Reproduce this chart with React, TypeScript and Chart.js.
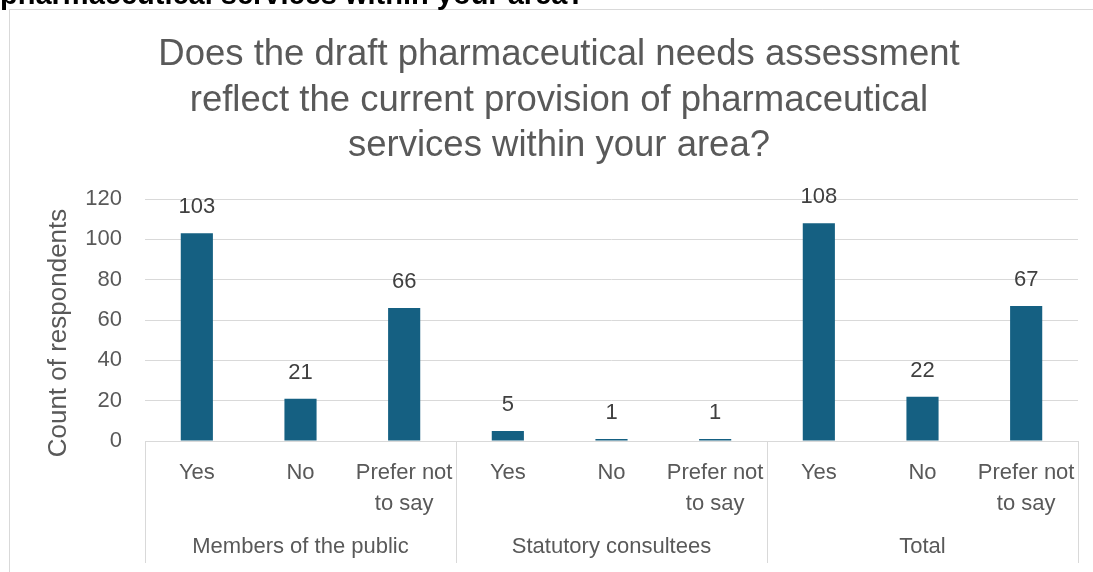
import React, { useEffect, useRef } from "react";
import { Chart, registerables } from "chart.js";

Chart.register(...registerables);

const pageHeading = "pharmaceutical services within your area?";
const titleLines = [
  "Does the draft pharmaceutical needs assessment",
  "reflect the current provision of pharmaceutical",
  "services within your area?",
];
const yAxisTitle = "Count of respondents";
const groups = ["Members of the public", "Statutory consultees", "Total"];
const answerLabels = [["Yes"], ["No"], ["Prefer not", "to say"]];
const publicValues = [103, 21, 66];
const statutoryValues = [5, 1, 1];
const totalValues = [108, 22, 67];
const yMin = 0;
const yMax = 120;
const yStep = 20;

const FONT = "'Liberation Sans', Arial, sans-serif";
const TEXT = "#595959";
const LABEL = "#404040";
const GRID = "#d9d9d9";
const BAR = "#156082";

export default function App() {
  const ref = useRef<HTMLCanvasElement | null>(null);

  useEffect(() => {
    const canvas = ref.current;
    if (!canvas) return;
    document.body.style.margin = "0";

    const labels = groups.flatMap(() => answerLabels);
    const values = [...publicValues, ...statutoryValues, ...totalValues];

    const decor = {
      id: "decor",
      beforeDraw(chart: any) {
        const ctx = chart.ctx;
        ctx.save();
        ctx.fillStyle = "#ffffff";
        ctx.fillRect(0, 0, chart.width, chart.height);
        ctx.strokeStyle = GRID;
        ctx.lineWidth = 1;
        ctx.beginPath();
        ctx.moveTo(9.5, chart.height);
        ctx.lineTo(9.5, 9.5);
        ctx.lineTo(chart.width, 9.5);
        ctx.stroke();

        ctx.fillStyle = "#000000";
        ctx.font = `bold 29px ${FONT}`;
        ctx.textAlign = "left";
        ctx.textBaseline = "alphabetic";
        ctx.fillText(pageHeading, 0, 4);

        ctx.fillStyle = TEXT;
        ctx.font = `36.5px ${FONT}`;
        ctx.textAlign = "center";
        titleLines.forEach((t, i) => ctx.fillText(t, 559, 65 + i * 45.5));

        ctx.save();
        ctx.translate(59, 333);
        ctx.rotate(-Math.PI / 2);
        ctx.font = `26px ${FONT}`;
        ctx.textBaseline = "middle";
        ctx.fillText(yAxisTitle, 0, 0);
        ctx.restore();
        ctx.restore();
      },
      afterDraw(chart: any) {
        const ctx = chart.ctx;
        const x = chart.scales.x;
        const area = chart.chartArea;
        ctx.save();
        const per = answerLabels.length;
        const bounds: number[] = [x.left];
        for (let g = 1; g < groups.length; g++) {
          const i = g * per;
          bounds.push((x.getPixelForValue(i - 1) + x.getPixelForValue(i)) / 2);
        }
        bounds.push(x.right);
        ctx.strokeStyle = GRID;
        ctx.lineWidth = 1;
        bounds.forEach((b) => {
          const bx = Math.round(b) + 0.5;
          ctx.beginPath();
          ctx.moveTo(bx, area.bottom);
          ctx.lineTo(bx, 563);
          ctx.stroke();
        });
        ctx.fillStyle = TEXT;
        ctx.font = `22px ${FONT}`;
        ctx.textAlign = "center";
        ctx.textBaseline = "middle";
        groups.forEach((g, i) => {
          ctx.fillText(g, (bounds[i] + bounds[i + 1]) / 2, 547);
        });
        ctx.fillStyle = LABEL;
        const meta = chart.getDatasetMeta(0);
        meta.data.forEach((el: any, i: number) => {
          ctx.fillText(String(values[i]), el.x, el.y - 26);
        });
        ctx.restore();
      },
    };

    const chart = new Chart(canvas, {
      type: "bar",
      data: {
        labels,
        datasets: [
          {
            data: values,
            backgroundColor: BAR,
            borderWidth: 0,
            categoryPercentage: 1,
            barPercentage: 0.31,
          },
        ],
      },
      options: {
        animation: false,
        responsive: false,
        devicePixelRatio: 1,
        layout: { padding: { top: 199, left: 0, right: 15, bottom: 0 } },
        plugins: {
          legend: { display: false },
          tooltip: { enabled: false },
          title: { display: false },
        },
        scales: {
          x: {
            type: "category",
            grid: { display: false },
            border: { display: true, color: GRID, width: 1 },
            ticks: {
              color: TEXT,
              font: { family: FONT, size: 22, lineHeight: 1.41 },
              padding: 8.5,
              maxRotation: 0,
              minRotation: 0,
              autoSkip: false,
            },
            afterFit(scale: any) {
              scale.height = 131;
            },
          },
          y: {
            min: yMin,
            max: yMax,
            grid: { color: GRID, drawTicks: false, lineWidth: 1 },
            border: { display: false },
            ticks: {
              stepSize: yStep,
              color: TEXT,
              font: { family: FONT, size: 22 },
              padding: 23,
            },
            afterFit(scale: any) {
              scale.width = 145;
            },
          },
        },
      },
      plugins: [decor],
    });

    return () => chart.destroy();
  }, []);

  return (
    <div style={{ position: "absolute", left: 0, top: 0, width: 1093, height: 572 }}>
      <canvas ref={ref} width={1093} height={572} style={{ width: 1093, height: 572, display: "block" }} />
    </div>
  );
}
